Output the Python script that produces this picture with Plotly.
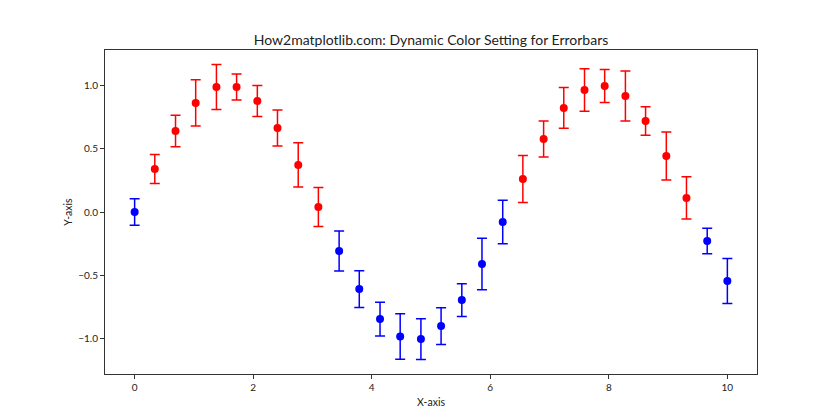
import plotly.graph_objects as go

x_vals = [0.0, 0.34, 0.69, 1.03, 1.38, 1.72, 2.07, 2.41, 2.76, 3.10,
          3.45, 3.79, 4.14, 4.48, 4.83, 5.17, 5.52, 5.86, 6.21, 6.55,
          6.90, 7.24, 7.59, 7.93, 8.28, 8.62, 8.97, 9.31, 9.66, 10.0]
y_vals = [0.000, 0.340, 0.640, 0.862, 0.988, 0.988, 0.877, 0.664, 0.372, 0.040,
          -0.308, -0.609, -0.846, -0.983, -1.004, -0.901, -0.696, -0.411, -0.079, 0.261,
          0.577, 0.822, 0.964, 0.996, 0.917, 0.719, 0.443, 0.111, -0.229, -0.545]
err_vals = [0.105, 0.115, 0.125, 0.182, 0.178, 0.103, 0.123, 0.142, 0.175, 0.154,
            0.158, 0.145, 0.133, 0.180, 0.161, 0.145, 0.129, 0.203, 0.172, 0.186,
            0.142, 0.161, 0.168, 0.130, 0.198, 0.112, 0.190, 0.167, 0.101, 0.178]
x_ticks = [0, 2, 4, 6, 8, 10]
y_ticks = [-1.0, -0.5, 0.0, 0.5, 1.0]

FONT = "Lato"
OFF = 8  # default page body margin

fig = go.Figure()
for cond, col in [(lambda v: v > 0, "#ff0000"), (lambda v: v <= 0, "#0000ff")]:
    xs = [x for x, y in zip(x_vals, y_vals) if cond(y)]
    ys = [y for y in y_vals if cond(y)]
    es = [e for e, y in zip(err_vals, y_vals) if cond(y)]
    fig.add_trace(go.Scatter(
        x=xs, y=ys, mode="markers",
        marker=dict(color=col, size=8, line=dict(width=0)),
        error_y=dict(type="data", array=es, visible=True, color=col,
                     thickness=1.5, width=5),
        showlegend=False,
    ))

axis_common = dict(
    showgrid=False, zeroline=False, showline=True, linecolor="#333333",
    linewidth=1, mirror=True, ticks="outside", ticklen=4, tickwidth=1,
    tickcolor="#333333", tickfont=dict(family=FONT, size=10, color="#222222"),
)

W, H = 840 - OFF, 420 - OFF
fig.update_layout(
    width=W, height=H,
    margin=dict(l=105 - OFF, r=840 - 757, t=50 - OFF, b=420 - 374),
    paper_bgcolor="white", plot_bgcolor="white",
    font=dict(family=FONT, color="#222222"),
    title=dict(text="How2matplotlib.com: Dynamic Color Setting for Errorbars",
               x=(431 - OFF) / W, xanchor="center",
               y=1 - (40 - OFF) / H, yanchor="middle", yref="container",
               font=dict(family=FONT, size=14, color="#222222")),
    xaxis=dict(range=[-0.5, 10.5], tickvals=x_ticks,
               title=dict(text="X-axis", font=dict(family=FONT, size=10.5), standoff=6),
               **axis_common),
    yaxis=dict(range=[-1.28, 1.28], tickvals=y_ticks, tickformat=".1f",
               title=dict(text="Y-axis", font=dict(family=FONT, size=10.5), standoff=3),
               **axis_common),
)

fig.write_html("out.html")
